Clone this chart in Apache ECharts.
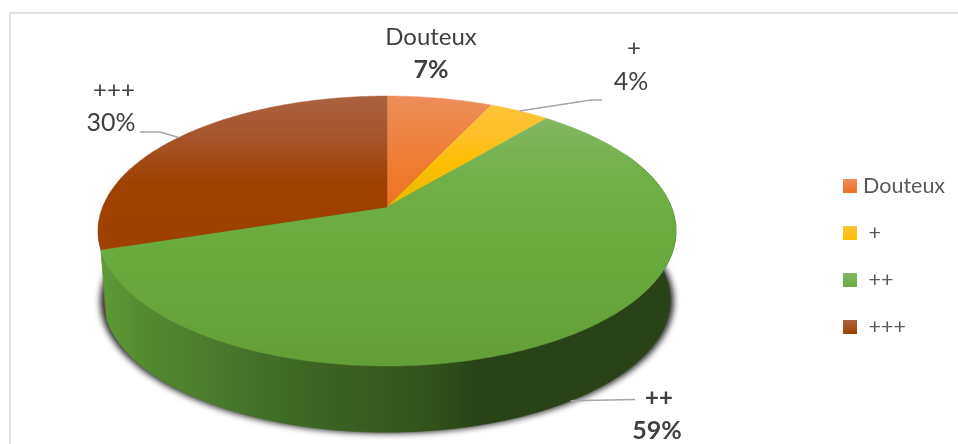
<!DOCTYPE html>
<html>
<head>
<meta charset="utf-8">
<style>html,body{margin:0;padding:0;background:#fff}#c{width:958px;height:444px}</style>
<script src="https://cdn.jsdelivr.net/npm/echarts@6/dist/echarts.min.js"></script>
</head>
<body>
<div id="c"></div>
<script>
const categories = ['Douteux', '+', '++', '+++'];
const values = [7, 4, 59, 30];

const FONT = 'Lato, "Open Sans", sans-serif';
const total = values.reduce((a, b) => a + b, 0);
const LG = echarts.graphic.LinearGradient;

// Perspective projection of the pie disc
const CX = 387, CY = 207, AX = 284.4, BY = 130.7, K = 0.178;
const WALL_SCALE = 0.98, WALL_DROP = 69.5, SHADOW_SHIFT = 2000;
function rimTop(deg) {
  const t = deg * Math.PI / 180, w = 1 + K * Math.cos(t);
  return [CX + AX * Math.sin(t) / w, CY - BY * Math.cos(t) / w];
}
function rimBottom(deg) {
  const p = rimTop(deg);
  return [CX + (p[0] - CX) * WALL_SCALE, CY + (p[1] - CY) * WALL_SCALE + WALL_DROP];
}
function rimShadow(deg) {
  const p = rimBottom(deg);
  return [CX + (p[0] - CX) * 1.012 - SHADOW_SHIFT, p[1] + 1];
}
function arc(fn, a, b) {
  const pts = [], n = Math.max(2, Math.ceil(Math.abs(b - a)));
  for (let i = 0; i <= n; i++) pts.push(fn(a + (b - a) * i / n));
  return pts;
}
function angles(i) {
  const before = values.slice(0, i).reduce((a, b) => a + b, 0);
  return [before / total * 360, (before + values[i]) / total * 360];
}

const topFills = [
  [[0, '#ee8d5c'], [0.28, '#ef7a2c'], [0.42, '#ed7425'], [1, '#ed7425']],
  [[0, '#fdc33c'], [0.14, '#fdc02a'], [0.25, '#fdbf00'], [0.42, '#e6b800'], [1, '#e6b800']],
  [[0, '#8cbc6e'], [0.1, '#80b75f'], [0.3, '#70b048'], [0.5, '#6aac40'], [1, '#62a037']],
  [[0, '#ab623f'], [0.15, '#a5552c'], [0.32, '#9e4102'], [1, '#9e4000']]
];
const legendFills = [
  ['#ee8d5c', '#ed7020'], ['#fdc33c', '#fdbf00'], ['#84b864', '#68ac3e'], ['#ab623f', '#9e4000']
];
// Label placement: [x, y] of name and of value, bold flags, leader elbow
const labelLayout = [
  { name: [431, 37], val: [431, 70], boldName: false, line: null },
  { name: [634, 48], val: [631, 82], boldName: false, line: [[591, 100], [602, 100]] },
  { name: [659, 398], val: [657, 431], boldName: true, line: [[635, 399.5]], onWall: true },
  { name: [114, 90], val: [111, 123], boldName: false, line: [[160, 132], [140, 132]] }
];

function renderSlice(i) {
  return function (params, api) {
    const v = api.value(0);
    const [a, b] = angles(i);
    const pts = [[CX, CY]].concat(arc(rimTop, a, b));
    const fill = new LG(0, 96, 0, 366, topFills[i].map(s => ({ offset: s[0], color: s[1] })), true);
    const L = labelLayout[i];
    const children = [{
      type: 'polygon',
      shape: { points: pts },
      style: { fill: fill, stroke: fill, lineWidth: 0.5 }
    }];
    if (L.line) {
      const mid = (a + b) / 2;
      children.push({
        type: 'polyline',
        z2: 5,
        shape: { points: [(L.onWall ? rimBottom : rimTop)(mid)].concat(L.line) },
        style: { fill: null, stroke: '#a6a6a6', lineWidth: 1.5 }
      });
    }
    children.push({
      type: 'text', z2: 6,
      style: { text: categories[i], x: L.name[0], y: L.name[1], align: 'center', verticalAlign: 'middle',
        fontFamily: FONT, fontSize: 24, fontWeight: L.boldName ? 'bold' : 'normal', fill: '#404040' }
    }, {
      type: 'text', z2: 6,
      style: { text: v + '%', x: L.val[0], y: L.val[1], align: 'center', verticalAlign: 'middle',
        fontFamily: FONT, fontSize: 25, fontWeight: (i === 0 || i === 2) ? 'bold' : 'normal', fill: '#404040' }
    });
    return { type: 'group', children: children };
  };
}

function renderWall(params, api) {
  const greenFill = new LG(100, 0, 575, 0, [
    { offset: 0, color: '#5f9b37' }, { offset: 0.105, color: '#528a30' },
    { offset: 0.316, color: '#44722a' }, { offset: 0.526, color: '#3a5f1f' },
    { offset: 0.695, color: '#32521a' }, { offset: 0.8, color: '#2a4316' }, { offset: 1, color: '#2a4316' }
  ], true);
  const [ga, gb] = angles(2);
  const [ba] = angles(3);
  const wall = (a, b) => arc(rimTop, a, b).concat(arc(rimBottom, a, b).reverse());
  return {
    type: 'group',
    children: [
      { type: 'polygon', shape: { points: arc(rimShadow, 0, 360) },
        style: { fill: '#000', shadowBlur: 6, shadowColor: 'rgba(0,0,0,0.85)', shadowOffsetX: SHADOW_SHIFT } },
      { type: 'polygon', shape: { points: wall(ba, ba + 12) }, style: { fill: '#8a4a14' } },
      { type: 'polygon', shape: { points: wall(ga + 25, gb) }, style: { fill: greenFill, stroke: greenFill, lineWidth: 0.5 } }
    ]
  };
}

const series = [{
  type: 'custom', name: 'wall', coordinateSystem: 'none', z: 1, silent: true, clip: false,
  data: [total], renderItem: renderWall
}].concat(categories.map((name, i) => ({
  type: 'custom', name: name, coordinateSystem: 'none', z: 2 + i, silent: true,
  data: [values[i]],
  itemStyle: { color: legendFills[i][1] },
  renderItem: renderSlice(i)
})));

const chart = echarts.init(document.getElementById('c'), null, { renderer: 'canvas' });
chart.setOption({
  animation: false,
  backgroundColor: '#fff',
  graphic: [{
    type: 'rect', z: 0, silent: true,
    shape: { x: 10, y: 13, width: 960, height: 450 },
    style: { fill: null, stroke: '#d9d9d9', lineWidth: 1.5 }
  }],
  legend: {
    orient: 'vertical', left: 843, top: 175, padding: 0,
    itemWidth: 14, itemHeight: 14, itemGap: 25,
    selectedMode: false,
    icon: 'rect',
    formatter: n => (n[0] === '+' ? ' ' + n : n),
    textStyle: { fontFamily: FONT, fontSize: 21.5, color: '#595959', padding: [0, 0, 0, 1] },
    data: categories.map((name, i) => ({
      name: name,
      itemStyle: { color: new LG(0, 0, 0, 1, [
        { offset: 0, color: legendFills[i][0] }, { offset: 1, color: legendFills[i][1] }
      ]) }
    }))
  },
  series: series
});
</script>
</body>
</html>
